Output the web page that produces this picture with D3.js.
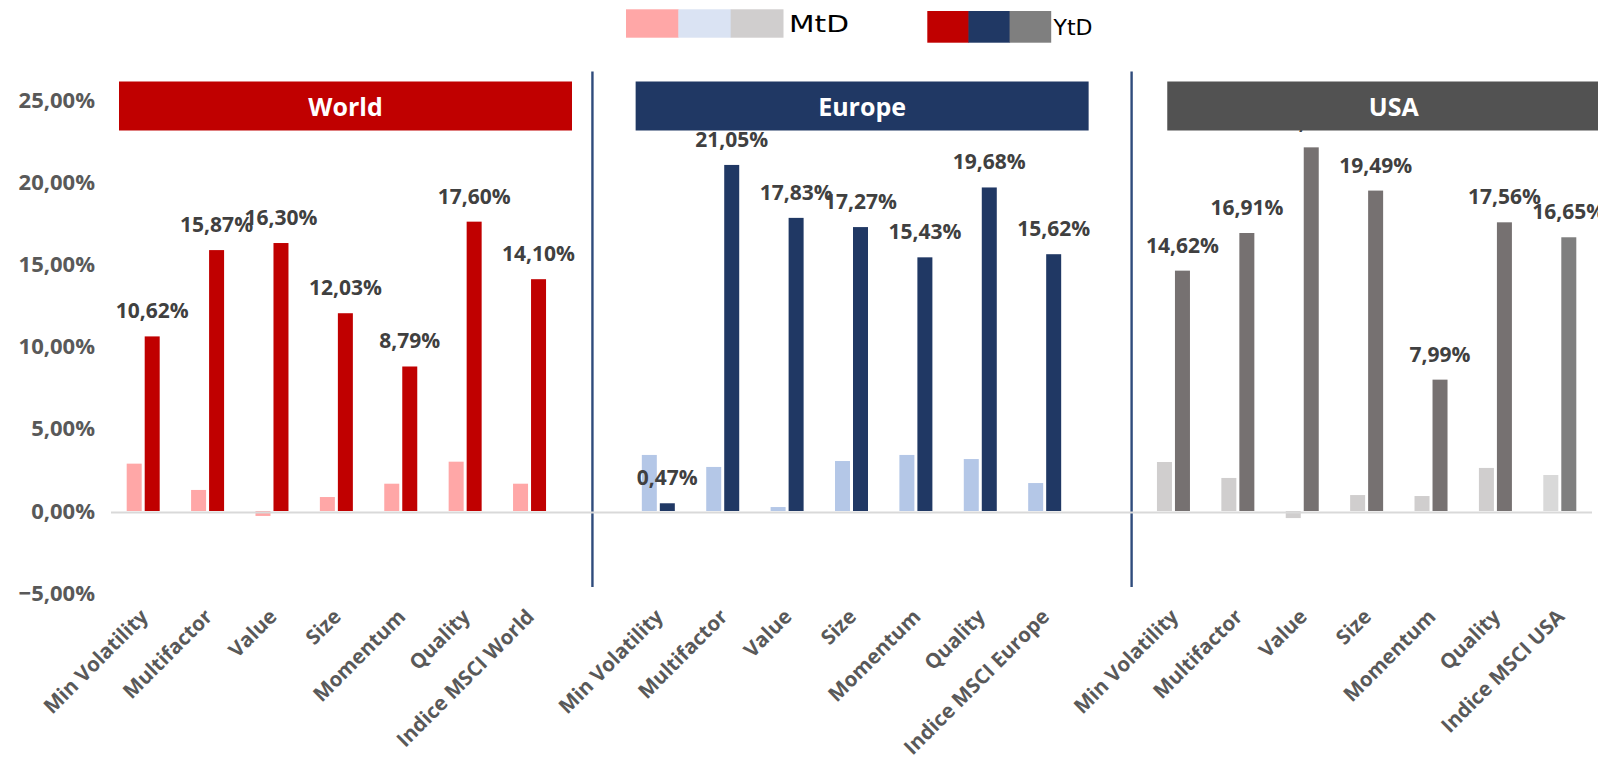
<!DOCTYPE html>
<html>
<head>
<meta charset="utf-8">
<script src="https://cdn.jsdelivr.net/npm/d3@7"></script>
<style>
  html, body { margin: 0; padding: 0; background: #ffffff; overflow: hidden; }
  svg { display: block; }
</style>
</head>
<body>
<svg id="chart" width="1598" height="761"></svg>
<script>
// ---------------- DATA ----------------
const regions = ["World", "Europe", "USA"];
const worldCategories  = ["Min Volatility", "Multifactor", "Value", "Size", "Momentum", "Quality", "Indice MSCI World"];
const europeCategories = ["Min Volatility", "Multifactor", "Value", "Size", "Momentum", "Quality", "Indice MSCI Europe"];
const usaCategories    = ["Min Volatility", "Multifactor", "Value", "Size", "Momentum", "Quality", "Indice MSCI USA"];

const worldMtD  = [2.88, 1.28, -0.30, 0.85, 1.66, 3.00, 1.66];
const worldYtD  = [10.62, 15.87, 16.30, 12.03, 8.79, 17.60, 14.10];
const europeMtD = [3.41, 2.68, 0.24, 3.04, 3.41, 3.16, 1.70];
const europeYtD = [0.47, 21.05, 17.83, 17.27, 15.43, 19.68, 15.62];
const usaMtD    = [2.98, 2.01, -0.43, 0.97, 0.91, 2.62, 2.19];
const usaYtD    = [14.62, 16.91, 22.12, 19.49, 7.99, 17.56, 16.65];

const yTicks = [-5, 0, 5, 10, 15, 20, 25];
const seriesNames = ["MtD", "YtD"];

// ---------------- STYLE ----------------
const colors = {
  World:  { MtD: "#FFA7A7", YtD: "#C00000", title: "#C00000" },
  Europe: { MtD: "#B4C7E7", YtD: "#203864", title: "#203864" },
  USA:    { MtD: "#D0CECE", YtD: "#767171", title: "#525252" }
};
const usaIndexColors = { MtD: "#D9D9D9", YtD: "#7F7F7F" };
const legendMtD = ["#FFA7A7", "#DAE3F3", "#D0CECE"];
const legendYtD = ["#C00000", "#203864", "#7F7F7F"];

// ---------------- BUILD ROWS ----------------
const groups = [
  { region: "World",  cats: worldCategories,  mtd: worldMtD,  ytd: worldYtD },
  { region: "Europe", cats: europeCategories, mtd: europeMtD, ytd: europeYtD },
  { region: "USA",    cats: usaCategories,    mtd: usaMtD,    ytd: usaYtD }
];
const rows = [];
const slots = [];
groups.forEach((g, gi) => {
  g.cats.forEach((c, i) => {
    const key = g.region + "|" + c;
    slots.push(key);
    rows.push({ key, region: g.region, cat: c, idx: i, MtD: g.mtd[i], YtD: g.ytd[i], isIndex: i === g.cats.length - 1 });
  });
  if (gi < groups.length - 1) slots.push("gap" + gi);
});

const svg = d3.select("#chart");
const plot = { left: 111, right: 1592 };

const x = d3.scaleBand().domain(slots).range([plot.left, plot.right]).padding(0);
const y = d3.scaleLinear().domain([-5, 25]).range([593.2, 100]);
const pairW = 33;
const xi = d3.scaleBand().domain(seriesNames).range([0, pairW]).paddingInner(1 / 6).paddingOuter(0);
const cx = k => x(k) + x.bandwidth() / 2;

const loc = d3.formatLocale({ decimal: ",", thousands: ".", grouping: [3], currency: ["", "€"] });
const fmt2 = loc.format(".2f");
const pct = v => fmt2(v) + "%";

const LABEL_FONT = "'Open Sans', 'Noto Sans', sans-serif";

// ---------------- Y AXIS ----------------
const yAxis = d3.axisLeft(y).tickValues(yTicks).tickFormat(pct).tickSize(0).tickPadding(0);
const yg = svg.append("g").attr("transform", "translate(95,0)").call(yAxis);
yg.select(".domain").remove();
yg.selectAll("text")
  .attr("font-family", LABEL_FONT)
  .attr("font-weight", 700)
  .attr("font-size", 22)
  .attr("fill", "#595959");

// ---------------- SEPARATORS ----------------
const sepX = [cx("gap0") - 1.5, cx("gap1") + 0.35 * x.step()];
svg.selectAll("line.sep").data(sepX).enter().append("line")
  .attr("class", "sep")
  .attr("x1", d => d).attr("x2", d => d)
  .attr("y1", 71.5).attr("y2", 587)
  .attr("stroke", "#2F4B7C").attr("stroke-width", 2.4);

// ---------------- BARS ----------------
const barColor = (r, s) => (r.region === "USA" && r.isIndex) ? usaIndexColors[s] : colors[r.region][s];
const barsG = svg.append("g");
seriesNames.forEach(s => {
  barsG.selectAll("rect." + s).data(rows).enter().append("rect")
    .attr("class", s)
    .attr("x", r => cx(r.key) - pairW / 2 + xi(s))
    .attr("width", xi.bandwidth())
    .attr("y", r => y(Math.max(0, r[s])))
    .attr("height", r => Math.abs(y(r[s]) - y(0)))
    .attr("fill", r => barColor(r, s));
});

// zero line
svg.append("line")
  .attr("x1", plot.left).attr("x2", plot.right)
  .attr("y1", y(0) + 1.5).attr("y2", y(0) + 1.5)
  .attr("stroke", "#D9D9D9").attr("stroke-width", 2);

// ---------------- DATA LABELS (YtD) ----------------
svg.append("g").selectAll("text").data(rows).enter().append("text")
  .attr("x", r => cx(r.key) - pairW / 2 + xi("YtD") + xi.bandwidth() / 2)
  .attr("y", r => y(r.YtD) - 18)
  .attr("text-anchor", "middle")
  .attr("font-family", LABEL_FONT)
  .attr("font-weight", 700)
  .attr("font-size", 21)
  .attr("fill", "#404040")
  .text(r => pct(r.YtD));

// ---------------- X LABELS ----------------
svg.append("g").selectAll("text").data(rows).enter().append("text")
  .attr("transform", r => `translate(${cx(r.key) + 6},${618}) rotate(-45)`)
  .attr("text-anchor", "end")
  .attr("font-family", LABEL_FONT)
  .attr("font-weight", 700)
  .attr("font-size", 20.5)
  .attr("fill", "#595959")
  .text(r => r.cat);

// ---------------- REGION TITLE BOXES ----------------
const boxW = 453;
const boxLeft = { World: x(slots[0]) + 8, Europe: x(slots[8]) + 9.5, USA: x(slots[16]) + 26 };
regions.forEach(reg => {
  const bx = boxLeft[reg];
  svg.append("rect").attr("x", bx).attr("y", 81.5).attr("width", boxW).attr("height", 49)
    .attr("fill", colors[reg].title);
  svg.append("text").attr("x", bx + boxW / 2).attr("y", 106)
    .attr("text-anchor", "middle").attr("dominant-baseline", "central")
    .attr("font-family", LABEL_FONT).attr("font-weight", 700).attr("font-size", 25)
    .attr("fill", "#ffffff").text(reg);
});

// ---------------- LEGEND ----------------
const lg = svg.append("g");
const swMtD = d3.scaleBand().domain(d3.range(legendMtD.length)).range([626, 783]);
lg.selectAll("rect.m").data(legendMtD).enter().append("rect")
  .attr("x", (d, i) => swMtD(i)).attr("y", 9.3).attr("width", swMtD.bandwidth() + 0.5).attr("height", 28.4)
  .attr("fill", d => d);
lg.append("text").attr("x", 789).attr("y", 32.3)
  .attr("font-family", "'DejaVu Sans', sans-serif").attr("font-size", 23).attr("fill", "#000")
  .attr("textLength", 60).attr("lengthAdjust", "spacingAndGlyphs").text(seriesNames[0]);
const swYtD = d3.scaleBand().domain(d3.range(legendYtD.length)).range([927.3, 1050.7]);
lg.selectAll("rect.y").data(legendYtD).enter().append("rect")
  .attr("x", (d, i) => swYtD(i)).attr("y", 11).attr("width", swYtD.bandwidth() + 0.5).attr("height", 31.7)
  .attr("fill", d => d);
lg.append("text").attr("x", 1053.5).attr("y", 35)
  .attr("font-family", "'DejaVu Sans', sans-serif").attr("font-size", 21).attr("fill", "#000")
  .attr("textLength", 39).attr("lengthAdjust", "spacingAndGlyphs")
  .text(seriesNames[1]);
</script>
</body>
</html>
